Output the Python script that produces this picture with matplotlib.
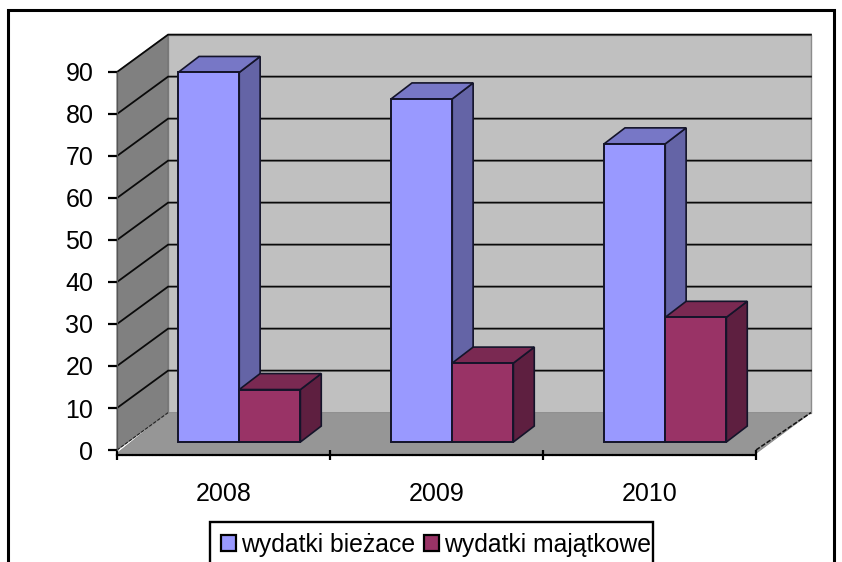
import matplotlib
matplotlib.use("Agg")
import matplotlib.pyplot as plt
from matplotlib.patches import Polygon, Rectangle

plt.rcParams['font.family'] = ['Liberation Sans', 'DejaVu Sans']

# Data
years = ['2008', '2009', '2010']
biezace = [88, 81.7, 71]
majatkowe = [12.5, 18.8, 29.7]
y_ticks = [0, 10, 20, 30, 40, 50, 60, 70, 80, 90]
series_names = ['wydatki bieżace', 'wydatki majątkowe']

W, H = 842, 562
fig = plt.figure(figsize=(W / 100, H / 100), dpi=100, facecolor='white')
ax = fig.add_axes([117 / W, 1 - 450 / H, 639 / W, 378 / H])
ax.set_xlim(0, 3)
ax.set_ylim(0, 90)
ax.set_facecolor('none')

# depth of the 3-D box, in data units
BACK_L, BACK_R, DY = 0.24, 3.258, 8.9
GAP, BAR_W = 0.287, 0.287
SET_Y = 1.9
BAR_DX, BAR_DY = 0.098, 3.8


def poly(pts, fc, ec='none', lw=0.0, z=1):
    ax.add_patch(Polygon(pts, closed=True, facecolor=fc, edgecolor=ec, linewidth=lw,
                         zorder=z, clip_on=False, joinstyle='miter'))


# walls
poly([(BACK_L, DY), (BACK_R, DY), (BACK_R, 90 + DY), (BACK_L, 90 + DY)], '#C0C0C0', '#8C8C8C', 1.0)
poly([(0, 0), (BACK_L, DY), (BACK_L, 90 + DY), (0, 90)], '#808080', '#707070', 0.8)
poly([(0, -0.8), (3, -0.8), (BACK_R, DY), (BACK_L, DY)], '#969696', '#8A8A8A', 0.6)

# grid lines
for v in y_ticks[1:]:
    ax.plot([0, BACK_L, BACK_R], [v, v + DY, v + DY], color='#0a0a0a', lw=1.3, zorder=2,
            clip_on=False, solid_joinstyle='miter')
ax.plot([0, BACK_L], [0, DY], color='#222222', lw=0.8, ls=(0, (3, 1.5)), zorder=2, clip_on=False)
ax.plot([3, BACK_R], [0, DY], color='#111111', lw=1.1, ls=(0, (3, 1.2)), zorder=2, clip_on=False)


def bar3d(x0, v, front, top, side, label=None):
    x1 = x0 + BAR_W
    y0, y1 = SET_Y, SET_Y + v
    edge = '#14142a'
    poly([(x1, y0), (x1 + BAR_DX, y0 + BAR_DY), (x1 + BAR_DX, y1 + BAR_DY), (x1, y1)], side, edge, 1.2, 3)
    poly([(x0, y1), (x1, y1), (x1 + BAR_DX, y1 + BAR_DY), (x0 + BAR_DX, y1 + BAR_DY)], top, edge, 1.2, 3)
    r = Rectangle((x0, y0), BAR_W, v, facecolor=front, edgecolor=edge, linewidth=1.4, zorder=3,
                  clip_on=False, label=label)
    ax.add_patch(r)


for i in range(3):
    bar3d(i + GAP, biezace[i], '#9999FF', '#7777C6', '#6464A6', series_names[0] if i == 0 else None)
    bar3d(i + GAP + BAR_W, majatkowe[i], '#993366', '#7A2952', '#5E1F40', series_names[1] if i == 0 else None)

# axes
for s in ['top', 'right', 'left']:
    ax.spines[s].set_visible(False)
ax.spines['bottom'].set_position(('outward', 3.4))
ax.spines['bottom'].set_linestyle((0, (0.6, 0.9)))
ax.spines['bottom'].set_linewidth(1.6)
ax.spines['bottom'].set_zorder(5)
ax.set_yticks(y_ticks)
ax.set_xticks([0, 1, 2, 3])
ax.set_xticks([0.5, 1.5, 2.5], labels=years, minor=True)
ax.tick_params(axis='y', direction='out', length=6.5, width=1.6, pad=10.5, labelsize=18, colors='black')
ax.tick_params(axis='x', which='major', direction='inout', length=6.5, width=1.6, labelbottom=False)
ax.tick_params(axis='x', which='minor', length=0, pad=19.5, labelsize=18)
ax.plot([0, 0], [0, 90], color='#555555', lw=0.9, zorder=2, clip_on=False)

# legend
leg = ax.legend(loc='upper left', bbox_to_anchor=(210 / W, 1 - 522 / H), bbox_transform=fig.transFigure,
                ncol=2, fontsize=17.8, frameon=False,
                borderaxespad=0, borderpad=0.45, handlelength=0.62, handleheight=0.62, handletextpad=0.18,
                columnspacing=0.36, labelspacing=0.2)
leg.set_zorder(6)
for h in leg.get_patches():
    h.set_edgecolor('black')
    h.set_linewidth(1.6)

# legend box and outer frame, both running off the bottom of the picture
fig.add_artist(Rectangle((210 / W, -10 / H), 443 / W, (H - 522 + 10) / H, transform=fig.transFigure,
                         facecolor='none', edgecolor='black', linewidth=1.7, clip_on=False))
fig.add_artist(Rectangle((8 / W, -20 / H), 826 / W, (H - 10 + 20) / H, transform=fig.transFigure,
                         facecolor='none', edgecolor='black', linewidth=2.2, clip_on=False))

fig.savefig('out.png', dpi=100)
